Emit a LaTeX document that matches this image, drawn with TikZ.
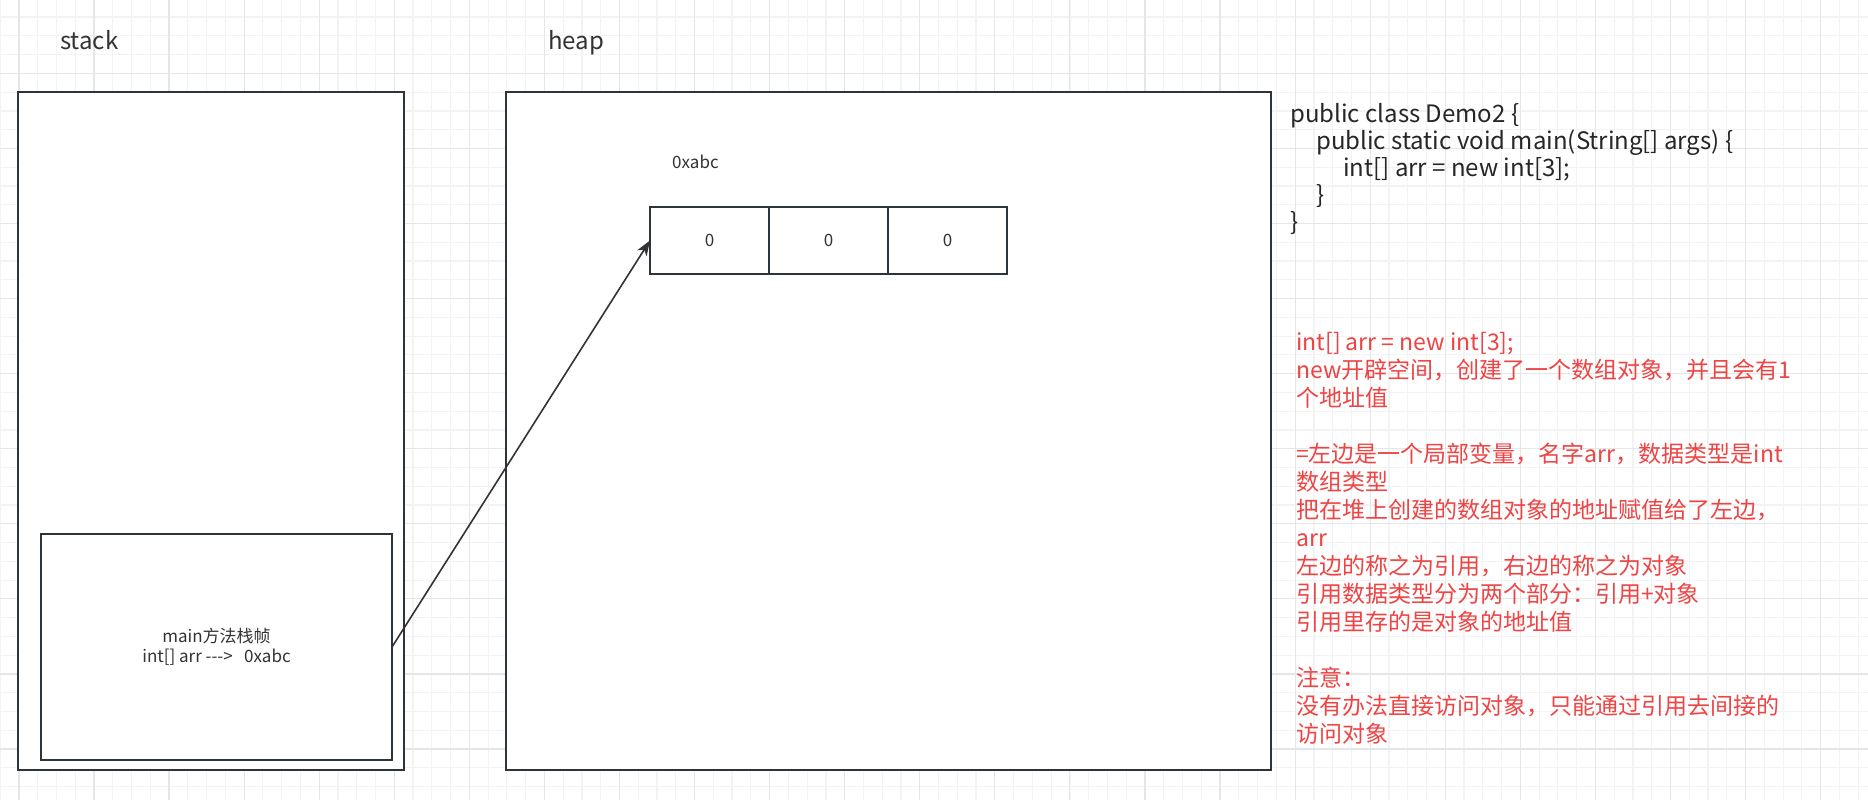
\documentclass[tikz,border=0pt]{standalone}
\usepackage{fontspec}
\setmainfont{Noto Sans CJK SC}[Ligatures=TeXOff]
\usetikzlibrary{arrows.meta,positioning}

\definecolor{gridminor}{HTML}{F3F3F3}
\definecolor{gridmajor}{HTML}{E6E6E6}
\definecolor{boxline}{HTML}{2E343B}
\definecolor{notered}{HTML}{EE4444}
\definecolor{textgray}{HTML}{333333}

\tikzset{
  box/.style={draw=boxline, line width=1.8pt, fill=white, inner sep=0pt, outer sep=0pt},
  cell/.style={box, minimum width=119pt, minimum height=67.5pt,
    font=\fontsize{17}{20}\selectfont, text=textgray},
  hdr/.style={anchor=base west, inner sep=0pt, text=textgray},
  ptr/.style={draw=textgray, line width=1.6pt, -{Stealth[length=15pt,width=11pt,inset=4pt]}},
}

\begin{document}
\begin{tikzpicture}[x=1pt,y=-1pt]
  \useasboundingbox (0,0) rectangle (1868,800);
  \fill[white] (0,0) rectangle (1868,800);
  % grid paper
  \foreach \i in {-1,...,99}
    \draw[gridminor, line width=1.2pt] ({18.9+18.768*\i},0) -- ++(0,800);
  \foreach \j in {0,...,43}
    \draw[gridminor, line width=1.2pt] (0,{-1.7+18.768*\j}) -- ++(1868,0);
  \foreach \i in {0,...,24}
    \draw[gridmajor, line width=1.2pt] ({18.9+75.07*\i},0) -- ++(0,800);
  \foreach \j in {1,...,10}
    \draw[gridmajor, line width=1.2pt] (0,{-1.7+75.07*\j}) -- ++(1868,0);

  % stack
  \node[hdr, font=\fontsize{24}{28}\selectfont] (stacktitle) at (60,49.5) {stack};
  \node[box, minimum width=386pt, minimum height=678pt] (stack) at (211.2,431) {};
  \node[box, minimum width=351pt, minimum height=226pt, align=center,
    font=\fontsize{17}{19.7}\selectfont, text=textgray] (frame) at (216.5,647)
    {main方法栈帧\\int[] arr --->\ \ \ 0xabc};

  % heap
  \node[hdr, font=\fontsize{24}{28}\selectfont] (heaptitle) at (548,49.5) {heap};
  \node[box, minimum width=765pt, minimum height=678pt] (heap) at (888.5,431) {};
  \node[hdr, font=\fontsize{17}{20}\selectfont] (addr) at (672,168.6) {0xabc};
  \node[cell] (c1) at (709.5,240.5) {0};
  \node[cell, right=0pt of c1] (c2) {0};
  \node[cell, right=0pt of c2] (c3) {0};

  \draw[ptr] (frame.east) -- (c1.west);

  % source code (base = last line)
  \node[hdr, align=left, font=\fontsize{24}{26.8}\selectfont, text=black!85] (code) at (1290,230)
    {public class Demo2 \{\\
     \hspace*{26pt}public static void main(String[] args) \{\\
     \hspace*{53pt}int[] arr = new int[3];\\
     \hspace*{26pt}\}\\
     \}};

  % notes (base = last line)
  \node[hdr, align=left, font=\fontsize{23}{28}\selectfont, text=notered] (note) at (1296,742)
    {int[] arr = new int[3];\\
     new开辟空间，创建了一个数组对象，并且会有1\\
     个地址值\\[28pt]
     =左边是一个局部变量，名字arr，数据类型是int\\
     数组类型\\
     把在堆上创建的数组对象的地址赋值给了左边，\\
     arr\\
     左边的称之为引用，右边的称之为对象\\
     引用数据类型分为两个部分：引用+对象\\
     引用里存的是对象的地址值\\[28pt]
     注意：\\
     没有办法直接访问对象，只能通过引用去间接的\\
     访问对象};
\end{tikzpicture}
\end{document}
